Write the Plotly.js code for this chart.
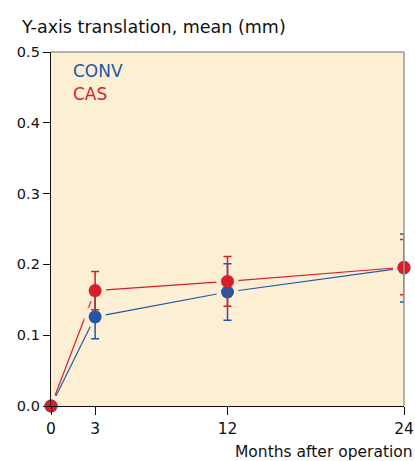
<!DOCTYPE html>
<html><head><meta charset="utf-8">
<script src="https://cdn.plot.ly/plotly-3.0.1.min.js"></script>
<style>html,body{margin:0;padding:0;background:#fff}#c{width:415px;height:461px}</style>
</head><body><div id="c"></div>
<script>
var months = [0, 3, 12, 24];
var tickLabels = ['0', '3', '12', '24'];
var convMean = [0, 0.126, 0.161, 0.195];
var convErr  = [0, 0.031, 0.040, 0.048];
var casMean  = [0, 0.163, 0.176, 0.196];
var casErr   = [0, 0.027, 0.035, 0.039];

var BG = '#fcefd3', BLUE = '#2157a8', RED = '#d71f2b';
var font = 'DejaVu Sans, Liberation Sans, Arial, sans-serif';

function lineTrace(y, c){ return {x: months, y: y, mode: 'lines', line: {color: c, width: 1.2}, hoverinfo: 'skip', cliponaxis: false}; }
function maskTrace(y){ return {x: months, y: y, mode: 'markers', marker: {size: 22, color: BG}, hoverinfo: 'skip', cliponaxis: true}; }
function ptTrace(y, e, c){ return {x: months, y: y, mode: 'markers', marker: {size: 13, color: c},
  error_y: {type: 'data', array: e, visible: true, color: c, thickness: 1.5, width: 4}, cliponaxis: false}; }

var data = [
  lineTrace(convMean, BLUE), lineTrace(casMean, RED),
  maskTrace(convMean), maskTrace(casMean),
  ptTrace(convMean, convErr, BLUE), ptTrace(casMean, casErr, RED)
];

var layout = {
  width: 415, height: 461, showlegend: false,
  margin: {l: 51, r: 11, t: 52, b: 55},
  paper_bgcolor: '#fff', plot_bgcolor: BG,
  font: {family: font, color: '#111', size: 14},
  xaxis: {range: [0, 24], tickvals: months, ticktext: tickLabels, ticks: 'outside', ticklen: 8, tickcolor: '#111',
    showline: true, linecolor: '#111', linewidth: 1.2, showgrid: false, zeroline: false, fixedrange: true,
    tickfont: {size: 15.5}, layer: 'above traces'},
  yaxis: {range: [0, 0.5], dtick: 0.1, tickformat: '.1f', ticks: 'outside', ticklen: 7, tickcolor: '#111',
    showline: true, linecolor: '#111', linewidth: 1.2, showgrid: false, zeroline: false, fixedrange: true,
    tickfont: {size: 14.5}, layer: 'above traces'},
  shapes: [
    {type: 'line', xref: 'paper', yref: 'paper', x0: 0, x1: 1, y0: 1, y1: 1, line: {color: '#999', width: 1.5}},
    {type: 'line', xref: 'paper', yref: 'paper', x0: 1, x1: 1, y0: 0, y1: 1, line: {color: '#999', width: 1.5}}
  ],
  annotations: [
    {text: 'Y-axis translation, mean (mm)', xref: 'paper', yref: 'paper', x: -0.09, y: 1.0, yshift: 25,
      xanchor: 'left', yanchor: 'middle', showarrow: false, font: {size: 17.5, color: '#111'}},
    {text: 'CONV', xref: 'paper', yref: 'paper', x: 0.058, y: 0.946, xanchor: 'left', yanchor: 'middle', showarrow: false, font: {size: 17, color: BLUE}},
    {text: 'CAS', xref: 'paper', yref: 'paper', x: 0.058, y: 0.881, xanchor: 'left', yanchor: 'middle', showarrow: false, font: {size: 17, color: RED}},
    {text: 'Months after operation', xref: 'paper', yref: 'paper', x: 1.03, y: 0, yshift: -46,
      xanchor: 'right', yanchor: 'middle', showarrow: false, font: {size: 15.5, color: '#111'}}
  ]
};
Plotly.newPlot('c', data, layout, {displayModeBar: false, staticPlot: true});
</script></body></html>
